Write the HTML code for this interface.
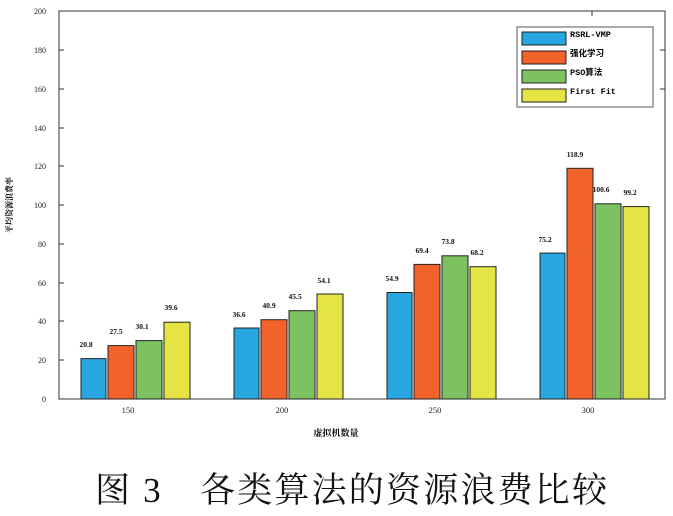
<!DOCTYPE html><html><head><meta charset="utf-8"><style>body{margin:0;background:#fff}svg text{font-family:"Liberation Serif","Noto Serif CJK SC",serif}</style></head><body>
<svg width="673" height="511" xmlns="http://www.w3.org/2000/svg">
<rect x="59" y="11" width="606" height="388" fill="none" stroke="#333" stroke-width="1"/>
<g font-size="8" text-anchor="end" fill="#222">
<text x="46" y="402">0</text><text x="46" y="363">20</text><text x="46" y="324">40</text><text x="46" y="286">60</text><text x="46" y="247">80</text><text x="46" y="208">100</text><text x="46" y="169">120</text><text x="46" y="131">140</text><text x="46" y="92">160</text><text x="46" y="53">180</text><text x="46" y="14">200</text>
</g>
<g stroke="#333"><line x1="59" x2="64" y1="360" y2="360"/><line x1="59" x2="64" y1="321" y2="321"/><line x1="59" x2="64" y1="283" y2="283"/><line x1="59" x2="64" y1="244" y2="244"/><line x1="59" x2="64" y1="205" y2="205"/><line x1="59" x2="64" y1="166" y2="166"/><line x1="59" x2="64" y1="128" y2="128"/><line x1="59" x2="64" y1="89" y2="89"/><line x1="59" x2="64" y1="50" y2="50"/>
<line x1="660" x2="665" y1="50" y2="50"/><line x1="660" x2="665" y1="89" y2="89"/><line x1="592" x2="592" y1="11" y2="16"/></g>
<g stroke="#222" stroke-width="1">
<rect x="81" y="358.6" width="25" height="40.4" fill="#27a6df"/><rect x="108" y="345.6" width="26" height="53.4" fill="#f2622a"/><rect x="136" y="340.6" width="26" height="58.4" fill="#7dc261"/><rect x="164" y="322.2" width="26" height="76.8" fill="#e6e444"/>
<rect x="234" y="328" width="25" height="71" fill="#27a6df"/><rect x="261" y="319.7" width="26" height="79.3" fill="#f2622a"/><rect x="289" y="310.7" width="26" height="88.3" fill="#7dc261"/><rect x="317" y="294" width="26" height="105" fill="#e6e444"/>
<rect x="387" y="292.5" width="25" height="106.5" fill="#27a6df"/><rect x="414" y="264.4" width="26" height="134.6" fill="#f2622a"/><rect x="442" y="255.8" width="26" height="143.2" fill="#7dc261"/><rect x="470" y="266.7" width="26" height="132.3" fill="#e6e444"/>
<rect x="540" y="253.1" width="25" height="145.9" fill="#27a6df"/><rect x="567" y="168.3" width="26" height="230.7" fill="#f2622a"/><rect x="595" y="203.8" width="26" height="195.2" fill="#7dc261"/><rect x="623" y="206.6" width="26" height="192.4" fill="#e6e444"/>
</g>
<g font-size="7.5" font-weight="bold" text-anchor="middle" fill="#111">
<text x="86" y="347">20.8</text><text x="116" y="334">27.5</text><text x="142" y="329">30.1</text><text x="171" y="310">39.6</text>
<text x="239" y="317">36.6</text><text x="269" y="308">40.9</text><text x="295" y="299">45.5</text><text x="324" y="283">54.1</text>
<text x="392" y="281">54.9</text><text x="422" y="253">69.4</text><text x="448" y="244">73.8</text><text x="477" y="255">68.2</text>
<text x="545" y="242">75.2</text><text x="575" y="157">118.9</text><text x="601" y="192">100.6</text><text x="630" y="195">99.2</text>
</g>
<g font-size="8.5" text-anchor="middle" fill="#222"><text x="128" y="413">150</text><text x="282" y="413">200</text><text x="435" y="413">250</text><text x="588" y="413">300</text></g>
<text x="336" y="436" font-size="9" text-anchor="middle" font-weight="bold">虚拟机数量</text>
<text transform="translate(12,205) rotate(-90)" font-size="8" text-anchor="middle" font-weight="bold">平均资源浪费率</text>
<rect x="517" y="27" width="136" height="80" fill="#fff" stroke="#555"/>
<g stroke="#222"><rect x="522" y="32" width="44" height="13" fill="#27a6df"/><rect x="522" y="51" width="44" height="13" fill="#f2622a"/><rect x="522" y="70" width="44" height="13" fill="#7dc261"/><rect x="522" y="89" width="44" height="13" fill="#e6e444"/></g>
<g font-size="8.5" font-weight="bold"><text x="570" y="37" style="font-family:'Liberation Mono','Noto Sans CJK SC',monospace">RSRL-VMP</text><text x="570" y="56" style="font-family:'Liberation Mono','Noto Sans CJK SC',monospace">强化学习</text><text x="570" y="75" style="font-family:'Liberation Mono','Noto Sans CJK SC',monospace">PSO算法</text><text x="570" y="94" style="font-family:'Liberation Mono','Noto Sans CJK SC',monospace">First Fit</text></g>
<text x="95" y="502" font-size="35" textLength="512" lengthAdjust="spacing" fill="#111">图 3　各类算法的资源浪费比较</text>
</svg></body></html>
